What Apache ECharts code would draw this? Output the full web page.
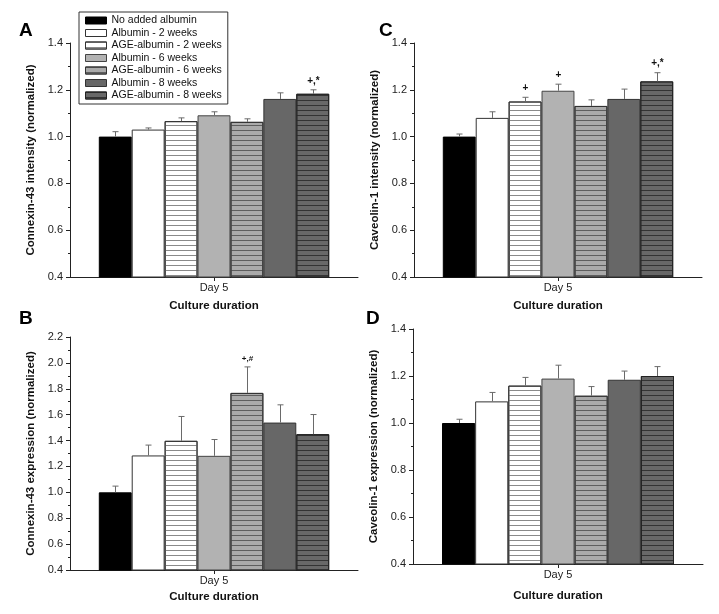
<!DOCTYPE html>
<html><head><meta charset="utf-8">
<script src="https://cdn.jsdelivr.net/npm/echarts@6/dist/echarts.min.js"></script>
<style>html,body{margin:0;padding:0;background:#fff}#c{width:719px;height:614px}</style>
</head><body><div id="c"></div>
<script>
const categories = ['Day 5'];
const seriesNames = ['No added albumin','Albumin - 2 weeks','AGE-albumin - 2 weeks','Albumin - 6 weeks','AGE-albumin - 6 weeks','Albumin - 8 weeks','AGE-albumin - 8 weeks'];
const aValues = [1.000,1.030,1.066,1.091,1.063,1.161,1.183];
const aErrors = [0.021,0.007,0.014,0.015,0.013,0.026,0.017];
const aMarks  = ['','','','','','','+,*'];
const cValues = [1.000,1.080,1.150,1.196,1.131,1.161,1.236];
const cErrors = [0.011,0.026,0.018,0.028,0.026,0.042,0.037];
const cMarks  = ['','','+','+','','','+,*'];
const bValues = [1.000,1.285,1.398,1.282,1.768,1.539,1.449];
const bErrors = [0.048,0.080,0.188,0.126,0.201,0.137,0.152];
const bMarks  = ['','','','','+,#','',''];
const dValues = [1.000,1.092,1.159,1.189,1.116,1.184,1.200];
const dErrors = [0.016,0.038,0.035,0.057,0.039,0.037,0.040];
const dMarks  = ['','','','','','',''];
const yTicksSmall = [0.4,0.6,0.8,1.0,1.2,1.4];
const yTicksLarge = [0.4,0.6,0.8,1.0,1.2,1.4,1.6,1.8,2.0,2.2];

const FONT = '"Liberation Sans", Arial, Helvetica, sans-serif';
const styles = [
  {color:'#000000', borderColor:'#000000'},
  {color:'#ffffff', borderColor:'#333333'},
  {color:'#ffffff', borderColor:'#333333', decal:{symbol:'rect', dashArrayX:[1,0], dashArrayY:[1,3.3], symbolSize:1, color:'#8a8a8a', rotation:0}},
  {color:'#b2b2b2', borderColor:'#444444'},
  {color:'#aaaaaa', borderColor:'#333333', decal:{symbol:'rect', dashArrayX:[1,0], dashArrayY:[1,3.3], symbolSize:1, color:'#5e5e5e', rotation:0}},
  {color:'#676767', borderColor:'#333333'},
  {color:'#686868', borderColor:'#222222', decal:{symbol:'rect', dashArrayX:[1,0], dashArrayY:[1,3.3], symbolSize:1, color:'#333333', rotation:0}}
];

const panels = [
  {letter:'A', values:aValues, errors:aErrors, marks:aMarks, markSize:10, ticks:yTicksSmall, yName:'Connexin-43 intensity (normalized)', grid:{left:70, top:43, width:288, height:234}, xNameGap:23, letterPos:[26,31]},
  {letter:'C', values:cValues, errors:cErrors, marks:cMarks, markSize:10, ticks:yTicksSmall, yName:'Caveolin-1 intensity (normalized)', grid:{left:414, top:43, width:288, height:234}, xNameGap:23, letterPos:[386,31]},
  {letter:'B', values:bValues, errors:bErrors, marks:bMarks, markSize:8, ticks:yTicksLarge, yName:'Connexin-43 expression (normalized)', grid:{left:70, top:337, width:288, height:233}, xNameGap:21, letterPos:[26,319]},
  {letter:'D', values:dValues, errors:dErrors, marks:dMarks, markSize:9, ticks:yTicksSmall, yName:'Caveolin-1 expression (normalized)', grid:{left:413, top:329, width:290, height:235}, xNameGap:26, letterPos:[373,319]}
];

const grids = [], xAxes = [], yAxes = [], series = [], graphics = [];
panels.forEach((p, gi) => {
  grids.push(Object.assign({containLabel:false}, p.grid));
  xAxes.push({
    type:'category', gridIndex:gi, data:categories,
    name:'Culture duration', nameLocation:'middle', nameGap:p.xNameGap,
    nameTextStyle:{fontFamily:FONT, fontWeight:'bold', fontSize:11.5, color:'#111'},
    axisLine:{lineStyle:{color:'#222', width:1}},
    axisTick:{show:true, alignWithLabel:true, length:4, lineStyle:{color:'#222'}},
    axisLabel:{fontFamily:FONT, fontSize:11, color:'#222', margin:5}
  });
  const tk = p.ticks;
  yAxes.push({
    type:'value', gridIndex:gi, min:tk[0], max:tk[tk.length-1], interval:0.2,
    name:p.yName, nameLocation:'middle', nameGap:33,
    nameTextStyle:{fontFamily:FONT, fontWeight:'bold', fontSize:11.5, color:'#111'},
    axisLine:{show:true, lineStyle:{color:'#222', width:1}},
    axisTick:{show:true, inside:false, length:4, lineStyle:{color:'#222'}},
    minorTick:{show:true, splitNumber:2, length:2, lineStyle:{color:'#222'}},
    splitLine:{show:false},
    axisLabel:{fontFamily:FONT, fontSize:11, color:'#222', margin:7, formatter:v=>v.toFixed(1)}
  });
  seriesNames.forEach((nm, i) => {
    series.push({
      type:'bar', name:nm, xAxisIndex:gi, yAxisIndex:gi,
      data:[p.values[i]], barGap:'0%', barCategoryGap:'20%',
      itemStyle:Object.assign({borderWidth:1}, styles[i]),
      emphasis:{disabled:true}, silent:true, z:2
    });
  });
  const errData = p.values.map((v, i) => [0, v, p.errors[i], i]);
  const marks = p.marks;
  const ms = p.markSize;
  series.push({
    type:'custom', xAxisIndex:gi, yAxisIndex:gi, data:errData, z:5, silent:true,
    encode:{x:0, y:1},
    renderItem:(params, api) => {
      const val = api.value(1), err = api.value(2), idx = api.value(3);
      const band = api.size([1, 0])[0];
      const base = api.coord([0, val]);
      const top = api.coord([0, val + err]);
      const x = Math.round(base[0] + band * (-0.4 + (idx + 0.5) * 0.8 / 7)) + 0.5;
      const children = [
        {type:'line', shape:{x1:x, y1:base[1], x2:x, y2:top[1]}, style:{stroke:'#6a6a6a', lineWidth:1}},
        {type:'line', shape:{x1:x-3, y1:top[1], x2:x+3, y2:top[1]}, style:{stroke:'#6a6a6a', lineWidth:1}}
      ];
      const m = marks[params.dataIndex];
      if (m) children.push({type:'text', x:x, y:top[1]-4, style:{text:m, fill:'#111', font:'bold ' + ms + 'px ' + FONT, align:'center', verticalAlign:'bottom'}});
      return {type:'group', children};
    }
  });
  graphics.push({type:'text', left:p.letterPos[0]-7, top:p.letterPos[1]-10, style:{text:p.letter, font:'bold 19px ' + FONT, fill:'#000'}});
});

const chart = echarts.init(document.getElementById('c'), null, {renderer:'canvas'});
chart.setOption({
  animation:false,
  backgroundColor:'#fff',
  grid:grids, xAxis:xAxes, yAxis:yAxes, series:series, graphic:graphics,
  legend:{
    data:seriesNames, orient:'vertical', left:79, top:12,
    itemWidth:21, itemHeight:7, itemGap:1.5, icon:'rect',
    itemStyle:{borderWidth:1},
    padding:[3,6,3,6], borderColor:'#333', borderWidth:1, backgroundColor:'#fff',
    textStyle:{fontFamily:FONT, fontSize:10.5, color:'#111', lineHeight:11},
    selectedMode:false
  }
});
</script></body></html>
